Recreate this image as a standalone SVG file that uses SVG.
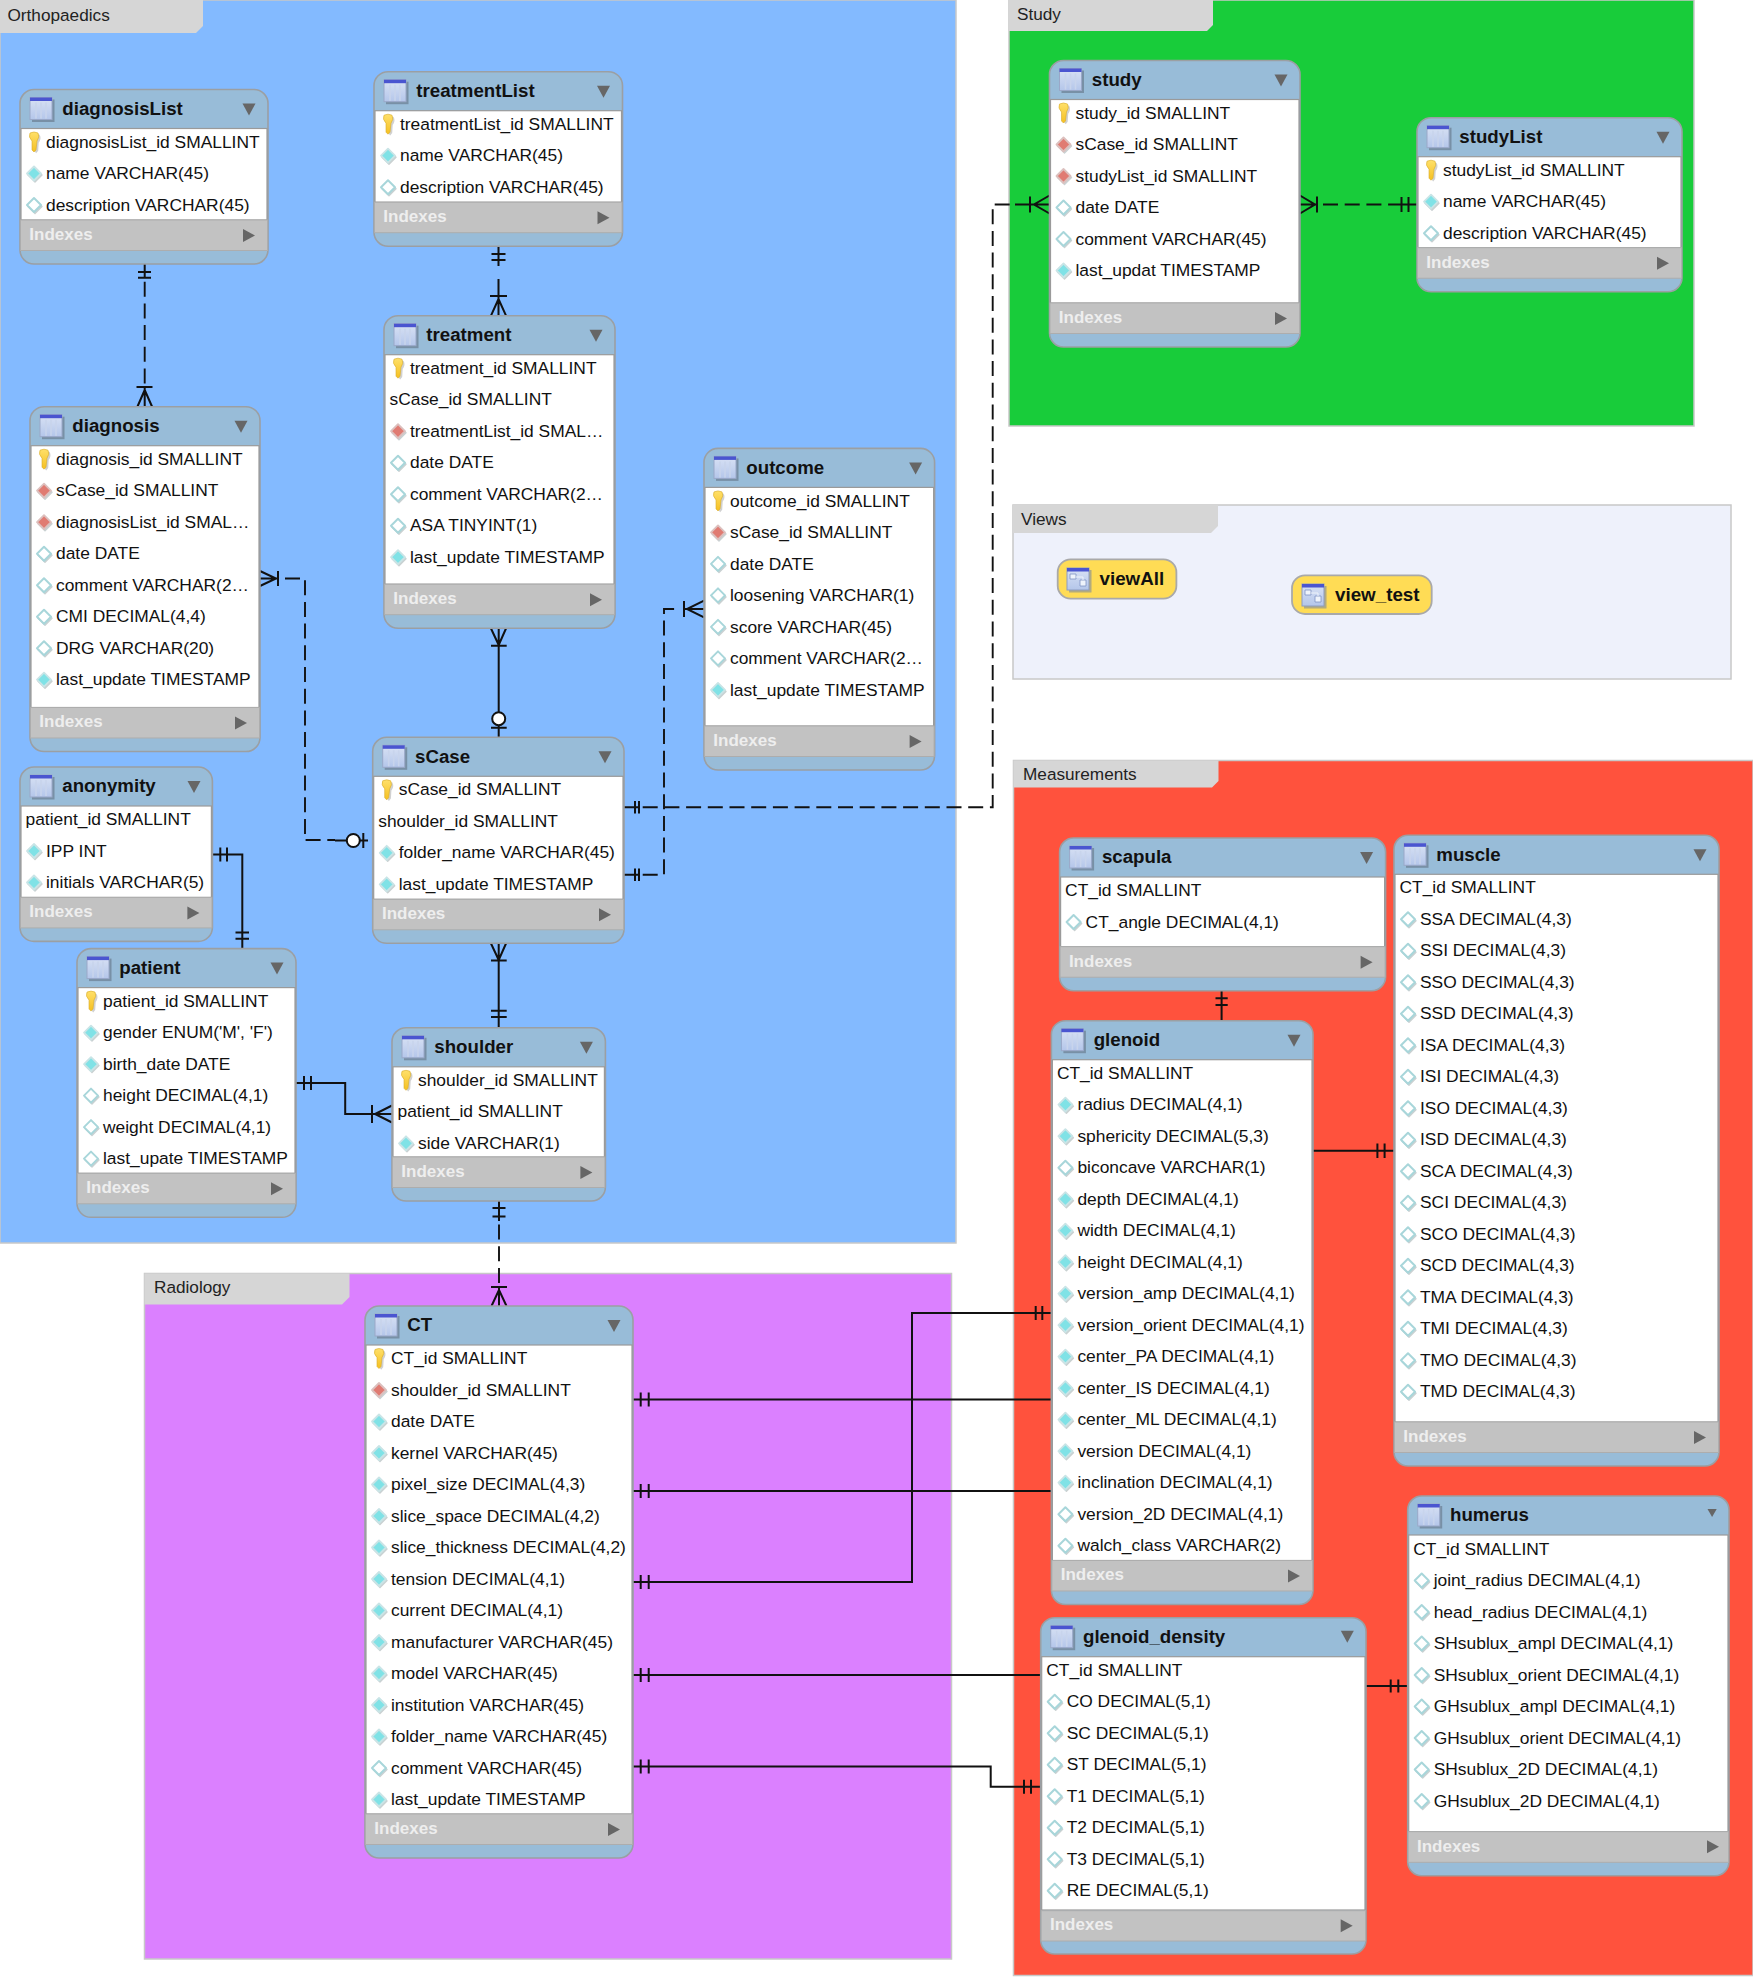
<svg xmlns="http://www.w3.org/2000/svg" width="1753" height="1981" viewBox="0 0 1753 1981">
<style>
text{font-family:"Liberation Sans",Arial,sans-serif;fill:#111}
.r{font-size:17.4px;transform:translateY(-.4px)}
.ti{font-size:18.7px;font-weight:bold;transform:translateY(-.6px)}
.vt{font-size:18.8px;font-weight:bold}
.ix{font-size:17px;font-weight:bold;fill:#eeeeee}
.ln{font-size:17.2px;fill:#222}
.box{fill:#98bcd8;stroke:#9b9fa3;stroke-width:1.6}
.body{fill:#fff;stroke:#9a9a9a;stroke-width:1.2}
.bar{fill:#c2c2c2;stroke:#adadad;stroke-width:1}
.tab{fill:#d6d6d6}
.lay{stroke:#c8c8c8;stroke-width:1.5}
.vw{fill:#ffdc55;stroke:#a9a9a9;stroke-width:1.8}
.arr{fill:#666}
.s{fill:none;stroke:#111;stroke-width:2}
.d{fill:none;stroke:#111;stroke-width:1.9;stroke-dasharray:15 6.7}
.o{fill:#fff;stroke:#111;stroke-width:2}
</style>
<defs>
<linearGradient id="ig" x1="0" y1="0" x2="0" y2="1"><stop offset="0" stop-color="#d9e2f4"/><stop offset="1" stop-color="#b4c6ea"/></linearGradient>
<linearGradient id="kg" x1="0" y1="0" x2="0" y2="1"><stop offset="0" stop-color="#ffe06a"/><stop offset="1" stop-color="#f5c021"/></linearGradient>
<path id="dshape" d="M0-7L7 0L0 7L-7 0Z" stroke-linejoin="round"/>
<g id="tbl"><rect x="-9" y="-9" width="22.500" height="22.500" fill="#5f6b7d" opacity=".55"/><rect x="-11" y="-11" width="22" height="22" fill="url(#ig)" stroke="#9aa8c8"/><rect x="-11" y="-11" width="22" height="3.500" fill="#4a55d0"/><path d="M-5-6V10M0-6V10M5-6V10" stroke="#c8d4ec" stroke-width="1.600"/></g>
<g id="vic"><rect x="-9" y="-9" width="22.500" height="22.500" fill="#7f8a99" opacity=".6"/><rect x="-11" y="-11" width="22" height="22" fill="url(#ig)" stroke="#8d9cc0"/><rect x="-11" y="-11" width="22" height="3.500" fill="#4a55d0"/><path d="M-8-5H-2V0H-8ZM2 1H8V7H2Z" fill="#eef3fb" stroke="#7f93c4" stroke-width=".8"/><path d="M-2-2H5V1" fill="none" stroke="#eef3fb"/></g>
<g id="k"><path d="M-3.500-8Q0-10 4.500-8Q6.500-4 3.500 0L3 8L1 10.500L-1 8L-1 0Q-5-4-3.500-8Z" fill="#999" opacity=".45" transform="translate(1.200,.8)"/><path d="M-4-9Q0-11 4-9Q6-5 3-1L2 8L0 10L-2 8L-2-1Q-6-5-4-9Z" fill="url(#kg)" stroke="#d6ab2b" stroke-width=".6"/></g>
<g id="dt"><use href="#dshape" x="1" y="1.500" fill="#8a9a9c" opacity=".45" stroke="#8a9a9c" stroke-width="1.400"/><use href="#dshape" fill="#80e2e6" stroke="#c9e4e6" stroke-width="1.800"/></g>
<g id="do"><use href="#dshape" x="1" y="1.500" fill="#8a9a9c" opacity=".45" stroke="#8a9a9c" stroke-width="1.400"/><use href="#dshape" fill="#fff" stroke="#a8d6da" stroke-width="2"/></g>
<g id="dr"><use href="#dshape" x="1" y="1.500" fill="#8a9a9c" opacity=".45" stroke="#8a9a9c" stroke-width="1.400"/><use href="#dshape" fill="#e07b72" stroke="#dcc0be" stroke-width="1.800"/></g>
<path id="ad" class="arr" d="M-6.500-6H6.500L0 6Z"/>
<path id="ar" class="arr" d="M-6-6.500L6 0L-6 6.500Z"/>
</defs>

<g id="layers">
<g id="layer-orthopaedics"><rect class="lay" x="0" y="0" width="956" height="1243" fill="#83baff"/><path class="tab" d="M0 0H203V26L196 33H0Z"/><text class="ln" x="7.500" y="21">Orthopaedics</text></g>
<g id="layer-study"><rect class="lay" x="1009" y="0" width="685" height="426" fill="#18cc3a"/><path class="tab" d="M1009 0H1213V25L1207 31H1009Z"/><text class="ln" x="1017" y="20">Study</text></g>
<g id="layer-views"><rect class="lay" x="1013" y="505" width="718" height="174" fill="#eef1fb"/><path class="tab" d="M1013 505H1218V526L1211 533H1013Z"/><text class="ln" x="1021" y="525">Views</text></g>
<g id="layer-measurements"><rect class="lay" x="1013.500" y="760.500" width="739.500" height="1215" fill="#ff523d"/><path class="tab" d="M1013.500 760.500H1218.500V781L1212 787.500H1013.500Z"/><text class="ln" x="1023" y="780">Measurements</text></g>
<g id="layer-radiology"><rect class="lay" x="144.500" y="1273.500" width="807" height="685.500" fill="#db80ff"/><path class="tab" d="M144.500 1273.500H349.500V1297L342 1304.500H144.500Z"/><text class="ln" x="154" y="1293">Radiology</text></g>
</g>

<g id="connectors">
<g id="c1"><path class="d" d="M144.700 281.700V387"/><path class="s" d="M144.700 264V277M138 272H151M138 277.700H151M136.500 387H152.500M144.700 387V406.500M144.700 390L137.500 406.500M144.700 390L152 406.500"/></g>
<g id="c2"><path class="s" d="M498.500 246V266M498.500 279V296M491.500 254H505.500M491.500 260H505.500M490 296H507M498.500 296V315.700M498.500 299L491 315.700M498.500 299L506 315.700"/></g>
<g id="c3"><path class="s" d="M498.700 628.500V737M491 628.500L498.700 645L506 628.500M491 645.700H506.700M491 727.700H506.700"/><circle class="o" cx="498.700" cy="718.700" r="6.500"/></g>
<g id="c4"><path class="s" d="M498.700 943V1028M491 943.500L498.700 960L506 943.500M491 960.500H506.700M491 1010.700H506.700M491 1017H506.700"/></g>
<g id="c5"><path class="d" d="M285 578.500H305V840H335"/><path class="s" d="M260 571L276 578.500L260 586M278 571V586M260 578.500H278M335 840.500H368M363.300 833V848"/><circle class="o" cx="353.300" cy="840.500" r="6.500"/></g>
<g id="c6"><path class="d" d="M642.700 807.300H992.700V204.500H1015"/><path class="d" d="M642.700 874.700H664V609H680"/><path class="s" d="M624 807.300H640M635 801V813.500M639 801V813.500M624 874.700H640M635 868.500V881M639 868.500V881M684 601V617M684 609H704M704 600.700L687 609L704 617.300M1015 204.500H1049M1030 196.500V212.500M1049.500 195.500L1034 204.500L1049.500 213.500"/></g>
<g id="c7"><path class="d" d="M1323 204.500H1398"/><path class="s" d="M1300 195.500L1315 204.500L1300 213.500M1317 196.500V212.500M1300 204.500H1317M1398 204.500H1417M1401.500 197V212M1408.500 197V212"/></g>
<g id="c8"><path class="s" d="M212.400 854.500H242.300V948.600M220.300 847.500V861.500M227 847.500V861.500M235.500 932.500H249M235.500 938.700H249"/></g>
<g id="c9"><path class="s" d="M296 1083H345.200V1114H392M304 1076V1090M311 1076V1090M372 1105V1123M392 1105.500L375 1114L392 1122.500"/></g>
<g id="c10"><path class="d" d="M499 1224.600V1287"/><path class="s" d="M499 1201V1221M492.500 1208H505.500M492.500 1216.500H505.500M491 1287H507M499 1287V1306M499 1290L491.500 1306M499 1290L506.500 1306"/></g>
<g id="c11"><path class="s" d="M1221.600 990.700V1020.700M1215.500 998.300H1227.700M1215.500 1005H1227.700"/></g>
<g id="c12"><path class="s" d="M1313 1150.700H1394M1377.400 1143.500V1158M1384.600 1143.500V1158"/></g>
<g id="c13"><path class="s" d="M633 1582H912V1313H1051.400M640.700 1575V1589M648.700 1575V1589M1035.700 1306V1320M1042.300 1306V1320"/></g>
<g id="c14"><path class="s" d="M633 1399.400H1051.400M640.700 1392.400V1406.400M648.700 1392.400V1406.400"/></g>
<g id="c15"><path class="s" d="M633 1490.900H1051.400M640.700 1484V1498M648.700 1484V1498"/></g>
<g id="c16"><path class="s" d="M633 1675H1040.700M640.700 1668V1682M648.700 1668V1682"/></g>
<g id="c17"><path class="s" d="M633 1766.400H990.700V1786.700H1040.700M640.700 1759.400V1773.400M648.700 1759.400V1773.400M1024 1779.700V1793.700M1031 1779.700V1793.700"/></g>
<g id="c18"><path class="s" d="M1366 1686H1407.700M1390.700 1679.500V1692.500M1398.300 1679.500V1692.500"/></g>
</g>

<g id="t-diagnosisList" transform="translate(20,89.500)"><rect class="box" width="248" height="174.500" rx="14"/><rect class="body" x="1" y="39" width="246" height="91.500"/><rect class="bar" x=".5" y="130.500" width="247" height="30.500"/><use href="#tbl" x="21" y="19"/><text class="ti" x="42.300" y="26">diagnosisList</text><use href="#ad" x="229" y="20"/><use href="#k" x="14" y="52.500"/><text class="r" x="26" y="58.500">diagnosisList_id SMALLINT</text><use href="#dt" x="14" y="84"/><text class="r" x="26" y="90">name VARCHAR(45)</text><use href="#do" x="14" y="115.500"/><text class="r" x="26" y="121.500">description VARCHAR(45)</text><text class="ix" x="9.300" y="150.500">Indexes</text><use href="#ar" x="229" y="146"/></g>

<g id="t-treatmentList" transform="translate(374,71.700)"><rect class="box" width="248.500" height="174.500" rx="14"/><rect class="body" x="1" y="39" width="246.500" height="91.500"/><rect class="bar" x=".5" y="130.500" width="247.500" height="30.500"/><use href="#tbl" x="21" y="19"/><text class="ti" x="42.300" y="26">treatmentList</text><use href="#ad" x="229.500" y="20"/><use href="#k" x="14" y="52.500"/><text class="r" x="26" y="58.500">treatmentList_id SMALLINT</text><use href="#dt" x="14" y="84"/><text class="r" x="26" y="90">name VARCHAR(45)</text><use href="#do" x="14" y="115.500"/><text class="r" x="26" y="121.500">description VARCHAR(45)</text><text class="ix" x="9.300" y="150.500">Indexes</text><use href="#ar" x="229.500" y="146"/></g>

<g id="t-treatment" transform="translate(384,315.700)"><rect class="box" width="231" height="312.500" rx="14"/><rect class="body" x="1" y="39" width="229" height="229.500"/><rect class="bar" x=".5" y="268.500" width="230" height="30.500"/><use href="#tbl" x="21" y="19"/><text class="ti" x="42.300" y="26">treatment</text><use href="#ad" x="212" y="20"/><use href="#k" x="14" y="52.500"/><text class="r" x="26" y="58.500">treatment_id SMALLINT</text><text class="r" x="5.500" y="90">sCase_id SMALLINT</text><use href="#dr" x="14" y="115.500"/><text class="r" x="26" y="121.500">treatmentList_id SMAL…</text><use href="#do" x="14" y="147"/><text class="r" x="26" y="153">date DATE</text><use href="#do" x="14" y="178.500"/><text class="r" x="26" y="184.500">comment VARCHAR(2…</text><use href="#do" x="14" y="210"/><text class="r" x="26" y="216">ASA TINYINT(1)</text><use href="#dt" x="14" y="241.500"/><text class="r" x="26" y="247.500">last_update TIMESTAMP</text><text class="ix" x="9.300" y="288.500">Indexes</text><use href="#ar" x="212" y="284"/></g>

<g id="t-diagnosis" transform="translate(30,406.700)"><rect class="box" width="230" height="344.800" rx="14"/><rect class="body" x="1" y="39" width="228" height="261.800"/><rect class="bar" x=".5" y="300.800" width="229" height="30.500"/><use href="#tbl" x="21" y="19"/><text class="ti" x="42.300" y="26">diagnosis</text><use href="#ad" x="211" y="20"/><use href="#k" x="14" y="52.500"/><text class="r" x="26" y="58.500">diagnosis_id SMALLINT</text><use href="#dr" x="14" y="84"/><text class="r" x="26" y="90">sCase_id SMALLINT</text><use href="#dr" x="14" y="115.500"/><text class="r" x="26" y="121.500">diagnosisList_id SMAL…</text><use href="#do" x="14" y="147"/><text class="r" x="26" y="153">date DATE</text><use href="#do" x="14" y="178.500"/><text class="r" x="26" y="184.500">comment VARCHAR(2…</text><use href="#do" x="14" y="210"/><text class="r" x="26" y="216">CMI DECIMAL(4,4)</text><use href="#do" x="14" y="241.500"/><text class="r" x="26" y="247.500">DRG VARCHAR(20)</text><use href="#dt" x="14" y="273"/><text class="r" x="26" y="279">last_update TIMESTAMP</text><text class="ix" x="9.300" y="320.800">Indexes</text><use href="#ar" x="211" y="316.300"/></g>

<g id="t-outcome" transform="translate(704,448.400)"><rect class="box" width="230.600" height="321.600" rx="14"/><rect class="body" x="1" y="39" width="228.600" height="238.600"/><rect class="bar" x=".5" y="277.600" width="229.600" height="30.500"/><use href="#tbl" x="21" y="19"/><text class="ti" x="42.300" y="26">outcome</text><use href="#ad" x="211.600" y="20"/><use href="#k" x="14" y="52.500"/><text class="r" x="26" y="58.500">outcome_id SMALLINT</text><use href="#dr" x="14" y="84"/><text class="r" x="26" y="90">sCase_id SMALLINT</text><use href="#do" x="14" y="115.500"/><text class="r" x="26" y="121.500">date DATE</text><use href="#do" x="14" y="147"/><text class="r" x="26" y="153">loosening VARCHAR(1)</text><use href="#do" x="14" y="178.500"/><text class="r" x="26" y="184.500">score VARCHAR(45)</text><use href="#do" x="14" y="210"/><text class="r" x="26" y="216">comment VARCHAR(2…</text><use href="#dt" x="14" y="241.500"/><text class="r" x="26" y="247.500">last_update TIMESTAMP</text><text class="ix" x="9.300" y="297.600">Indexes</text><use href="#ar" x="211.600" y="293.100"/></g>

<g id="t-sCase" transform="translate(372.700,737.300)"><rect class="box" width="251.300" height="206" rx="14"/><rect class="body" x="1" y="39" width="249.300" height="123"/><rect class="bar" x=".5" y="162" width="250.300" height="30.500"/><use href="#tbl" x="21" y="19"/><text class="ti" x="42.300" y="26">sCase</text><use href="#ad" x="232.300" y="20"/><use href="#k" x="14" y="52.500"/><text class="r" x="26" y="58.500">sCase_id SMALLINT</text><text class="r" x="5.500" y="90">shoulder_id SMALLINT</text><use href="#dt" x="14" y="115.500"/><text class="r" x="26" y="121.500">folder_name VARCHAR(45)</text><use href="#dt" x="14" y="147"/><text class="r" x="26" y="153">last_update TIMESTAMP</text><text class="ix" x="9.300" y="182">Indexes</text><use href="#ar" x="232.300" y="177.500"/></g>

<g id="t-anonymity" transform="translate(20,767)"><rect class="box" width="192.400" height="174.400" rx="14"/><rect class="body" x="1" y="39" width="190.400" height="91.400"/><rect class="bar" x=".5" y="130.400" width="191.400" height="30.500"/><use href="#tbl" x="21" y="19"/><text class="ti" x="42.300" y="26">anonymity</text><use href="#ad" x="174" y="20"/><text class="r" x="5.500" y="58.500">patient_id SMALLINT</text><use href="#dt" x="14" y="84"/><text class="r" x="26" y="90">IPP INT</text><use href="#dt" x="14" y="115.500"/><text class="r" x="26" y="121.500">initials VARCHAR(5)</text><text class="ix" x="9.300" y="150.400">Indexes</text><use href="#ar" x="173.400" y="145.900"/></g>

<g id="t-patient" transform="translate(77,948.600)"><rect class="box" width="219" height="268.700" rx="14"/><rect class="body" x="1" y="39" width="217" height="185.700"/><rect class="bar" x=".5" y="224.700" width="218" height="30.500"/><use href="#tbl" x="21" y="19"/><text class="ti" x="42.300" y="26">patient</text><use href="#ad" x="200" y="20"/><use href="#k" x="14" y="52.500"/><text class="r" x="26" y="58.500">patient_id SMALLINT</text><use href="#dt" x="14" y="84"/><text class="r" x="26" y="90">gender ENUM('M', 'F')</text><use href="#dt" x="14" y="115.500"/><text class="r" x="26" y="121.500">birth_date DATE</text><use href="#do" x="14" y="147"/><text class="r" x="26" y="153">height DECIMAL(4,1)</text><use href="#do" x="14" y="178.500"/><text class="r" x="26" y="184.500">weight DECIMAL(4,1)</text><use href="#do" x="14" y="210"/><text class="r" x="26" y="216">last_upate TIMESTAMP</text><text class="ix" x="9.300" y="244.700">Indexes</text><use href="#ar" x="200" y="240.200"/></g>

<g id="t-shoulder" transform="translate(392,1027.800)"><rect class="box" width="213.400" height="173.200" rx="14"/><rect class="body" x="1" y="39" width="211.400" height="90.200"/><rect class="bar" x=".5" y="129.200" width="212.400" height="30.500"/><use href="#tbl" x="21" y="19"/><text class="ti" x="42.300" y="26">shoulder</text><use href="#ad" x="194.400" y="20"/><use href="#k" x="14" y="52.500"/><text class="r" x="26" y="58.500">shoulder_id SMALLINT</text><text class="r" x="5.500" y="90">patient_id SMALLINT</text><use href="#dt" x="14" y="115.500"/><text class="r" x="26" y="121.500">side VARCHAR(1)</text><text class="ix" x="9.300" y="149.200">Indexes</text><use href="#ar" x="194.400" y="144.700"/></g>

<g id="t-CT" transform="translate(365,1306)"><rect class="box" width="268" height="552" rx="14"/><rect class="body" x="1" y="39" width="266" height="469"/><rect class="bar" x=".5" y="508" width="267" height="30.500"/><use href="#tbl" x="21" y="19"/><text class="ti" x="42.300" y="26">CT</text><use href="#ad" x="249" y="20"/><use href="#k" x="14" y="52.500"/><text class="r" x="26" y="58.500">CT_id SMALLINT</text><use href="#dr" x="14" y="84"/><text class="r" x="26" y="90">shoulder_id SMALLINT</text><use href="#dt" x="14" y="115.500"/><text class="r" x="26" y="121.500">date DATE</text><use href="#dt" x="14" y="147"/><text class="r" x="26" y="153">kernel VARCHAR(45)</text><use href="#dt" x="14" y="178.500"/><text class="r" x="26" y="184.500">pixel_size DECIMAL(4,3)</text><use href="#dt" x="14" y="210"/><text class="r" x="26" y="216">slice_space DECIMAL(4,2)</text><use href="#dt" x="14" y="241.500"/><text class="r" x="26" y="247.500">slice_thickness DECIMAL(4,2)</text><use href="#dt" x="14" y="273"/><text class="r" x="26" y="279">tension DECIMAL(4,1)</text><use href="#dt" x="14" y="304.500"/><text class="r" x="26" y="310.500">current DECIMAL(4,1)</text><use href="#dt" x="14" y="336"/><text class="r" x="26" y="342">manufacturer VARCHAR(45)</text><use href="#dt" x="14" y="367.500"/><text class="r" x="26" y="373.500">model VARCHAR(45)</text><use href="#dt" x="14" y="399"/><text class="r" x="26" y="405">institution VARCHAR(45)</text><use href="#dt" x="14" y="430.500"/><text class="r" x="26" y="436.500">folder_name VARCHAR(45)</text><use href="#do" x="14" y="462"/><text class="r" x="26" y="468">comment VARCHAR(45)</text><use href="#dt" x="14" y="493.500"/><text class="r" x="26" y="499.500">last_update TIMESTAMP</text><text class="ix" x="9.300" y="528">Indexes</text><use href="#ar" x="249" y="523.500"/></g>

<g id="t-study" transform="translate(1049.500,60.500)"><rect class="box" width="250.500" height="286.500" rx="14"/><rect class="body" x="1" y="39" width="248.500" height="203.500"/><rect class="bar" x=".5" y="242.500" width="249.500" height="30.500"/><use href="#tbl" x="21" y="19"/><text class="ti" x="42.300" y="26">study</text><use href="#ad" x="231.500" y="20"/><use href="#k" x="14" y="52.500"/><text class="r" x="26" y="58.500">study_id SMALLINT</text><use href="#dr" x="14" y="84"/><text class="r" x="26" y="90">sCase_id SMALLINT</text><use href="#dr" x="14" y="115.500"/><text class="r" x="26" y="121.500">studyList_id SMALLINT</text><use href="#do" x="14" y="147"/><text class="r" x="26" y="153">date DATE</text><use href="#do" x="14" y="178.500"/><text class="r" x="26" y="184.500">comment VARCHAR(45)</text><use href="#dt" x="14" y="210"/><text class="r" x="26" y="216">last_updat TIMESTAMP</text><text class="ix" x="9.300" y="262.500">Indexes</text><use href="#ar" x="231.500" y="258"/></g>

<g id="t-studyList" transform="translate(1417,117.700)"><rect class="box" width="265" height="174" rx="14"/><rect class="body" x="1" y="39" width="263" height="91"/><rect class="bar" x=".5" y="130" width="264" height="30.500"/><use href="#tbl" x="21" y="19"/><text class="ti" x="42.300" y="26">studyList</text><use href="#ad" x="246" y="20"/><use href="#k" x="14" y="52.500"/><text class="r" x="26" y="58.500">studyList_id SMALLINT</text><use href="#dt" x="14" y="84"/><text class="r" x="26" y="90">name VARCHAR(45)</text><use href="#do" x="14" y="115.500"/><text class="r" x="26" y="121.500">description VARCHAR(45)</text><text class="ix" x="9.300" y="150">Indexes</text><use href="#ar" x="246" y="145.500"/></g>

<g id="v-viewAll"><rect class="vw" x="1057.700" y="559.400" width="118.700" height="39.300" rx="13"/><use href="#vic" x="1078" y="579"/><text class="vt" x="1099.500" y="585">viewAll</text></g>
<g id="v-view_test"><rect class="vw" x="1292" y="575.400" width="139.700" height="38.600" rx="13"/><use href="#vic" x="1313" y="595"/><text class="vt" x="1335" y="601">view_test</text></g>

<g id="t-scapula" transform="translate(1059.600,838)"><rect class="box" width="326" height="152.700" rx="14"/><rect class="body" x="1" y="39" width="324" height="69.700"/><rect class="bar" x=".5" y="108.700" width="325" height="30.500"/><use href="#tbl" x="21" y="19"/><text class="ti" x="42.300" y="26">scapula</text><use href="#ad" x="307" y="20"/><text class="r" x="5.500" y="58.500">CT_id SMALLINT</text><use href="#do" x="14" y="84"/><text class="r" x="26" y="90">CT_angle DECIMAL(4,1)</text><text class="ix" x="9.300" y="128.700">Indexes</text><use href="#ar" x="307" y="124.200"/></g>

<g id="t-muscle" transform="translate(1394,835.300)"><rect class="box" width="325" height="630.700" rx="14"/><rect class="body" x="1" y="39" width="323" height="547.700"/><rect class="bar" x=".5" y="586.700" width="324" height="30.500"/><use href="#tbl" x="21" y="19"/><text class="ti" x="42.300" y="26">muscle</text><use href="#ad" x="306" y="20"/><text class="r" x="5.500" y="58.500">CT_id SMALLINT</text><use href="#do" x="14" y="84"/><text class="r" x="26" y="90">SSA DECIMAL(4,3)</text><use href="#do" x="14" y="115.500"/><text class="r" x="26" y="121.500">SSI DECIMAL(4,3)</text><use href="#do" x="14" y="147"/><text class="r" x="26" y="153">SSO DECIMAL(4,3)</text><use href="#do" x="14" y="178.500"/><text class="r" x="26" y="184.500">SSD DECIMAL(4,3)</text><use href="#do" x="14" y="210"/><text class="r" x="26" y="216">ISA DECIMAL(4,3)</text><use href="#do" x="14" y="241.500"/><text class="r" x="26" y="247.500">ISI DECIMAL(4,3)</text><use href="#do" x="14" y="273"/><text class="r" x="26" y="279">ISO DECIMAL(4,3)</text><use href="#do" x="14" y="304.500"/><text class="r" x="26" y="310.500">ISD DECIMAL(4,3)</text><use href="#do" x="14" y="336"/><text class="r" x="26" y="342">SCA DECIMAL(4,3)</text><use href="#do" x="14" y="367.500"/><text class="r" x="26" y="373.500">SCI DECIMAL(4,3)</text><use href="#do" x="14" y="399"/><text class="r" x="26" y="405">SCO DECIMAL(4,3)</text><use href="#do" x="14" y="430.500"/><text class="r" x="26" y="436.500">SCD DECIMAL(4,3)</text><use href="#do" x="14" y="462"/><text class="r" x="26" y="468">TMA DECIMAL(4,3)</text><use href="#do" x="14" y="493.500"/><text class="r" x="26" y="499.500">TMI DECIMAL(4,3)</text><use href="#do" x="14" y="525"/><text class="r" x="26" y="531">TMO DECIMAL(4,3)</text><use href="#do" x="14" y="556.500"/><text class="r" x="26" y="562.500">TMD DECIMAL(4,3)</text><text class="ix" x="9.300" y="606.700">Indexes</text><use href="#ar" x="306" y="602.200"/></g>

<g id="t-glenoid" transform="translate(1051.400,1020.700)"><rect class="box" width="261.600" height="583.800" rx="14"/><rect class="body" x="1" y="39" width="259.600" height="500.800"/><rect class="bar" x=".5" y="539.800" width="260.600" height="30.500"/><use href="#tbl" x="21" y="19"/><text class="ti" x="42.300" y="26">glenoid</text><use href="#ad" x="242.600" y="20"/><text class="r" x="5.500" y="58.500">CT_id SMALLINT</text><use href="#dt" x="14" y="84"/><text class="r" x="26" y="90">radius DECIMAL(4,1)</text><use href="#dt" x="14" y="115.500"/><text class="r" x="26" y="121.500">sphericity DECIMAL(5,3)</text><use href="#do" x="14" y="147"/><text class="r" x="26" y="153">biconcave VARCHAR(1)</text><use href="#dt" x="14" y="178.500"/><text class="r" x="26" y="184.500">depth DECIMAL(4,1)</text><use href="#dt" x="14" y="210"/><text class="r" x="26" y="216">width DECIMAL(4,1)</text><use href="#dt" x="14" y="241.500"/><text class="r" x="26" y="247.500">height DECIMAL(4,1)</text><use href="#dt" x="14" y="273"/><text class="r" x="26" y="279">version_amp DECIMAL(4,1)</text><use href="#dt" x="14" y="304.500"/><text class="r" x="26" y="310.500">version_orient DECIMAL(4,1)</text><use href="#dt" x="14" y="336"/><text class="r" x="26" y="342">center_PA DECIMAL(4,1)</text><use href="#dt" x="14" y="367.500"/><text class="r" x="26" y="373.500">center_IS DECIMAL(4,1)</text><use href="#dt" x="14" y="399"/><text class="r" x="26" y="405">center_ML DECIMAL(4,1)</text><use href="#dt" x="14" y="430.500"/><text class="r" x="26" y="436.500">version DECIMAL(4,1)</text><use href="#dt" x="14" y="462"/><text class="r" x="26" y="468">inclination DECIMAL(4,1)</text><use href="#do" x="14" y="493.500"/><text class="r" x="26" y="499.500">version_2D DECIMAL(4,1)</text><use href="#do" x="14" y="525"/><text class="r" x="26" y="531">walch_class VARCHAR(2)</text><text class="ix" x="9.300" y="559.800">Indexes</text><use href="#ar" x="242.600" y="555.300"/></g>

<g id="t-glenoid_density" transform="translate(1040.700,1617.700)"><rect class="box" width="325.300" height="336.300" rx="14"/><rect class="body" x="1" y="39" width="323.300" height="253.300"/><rect class="bar" x=".5" y="293" width="324.300" height="30.300"/><use href="#tbl" x="21" y="19"/><text class="ti" x="42.300" y="26">glenoid_density</text><use href="#ad" x="306.600" y="19"/><text class="r" x="5.500" y="58.500">CT_id SMALLINT</text><use href="#do" x="14" y="84"/><text class="r" x="26" y="90">CO DECIMAL(5,1)</text><use href="#do" x="14" y="115.500"/><text class="r" x="26" y="121.500">SC DECIMAL(5,1)</text><use href="#do" x="14" y="147"/><text class="r" x="26" y="153">ST DECIMAL(5,1)</text><use href="#do" x="14" y="178.500"/><text class="r" x="26" y="184.500">T1 DECIMAL(5,1)</text><use href="#do" x="14" y="210"/><text class="r" x="26" y="216">T2 DECIMAL(5,1)</text><use href="#do" x="14" y="241.500"/><text class="r" x="26" y="247.500">T3 DECIMAL(5,1)</text><use href="#do" x="14" y="273"/><text class="r" x="26" y="279">RE DECIMAL(5,1)</text><text class="ix" x="9.300" y="312.500">Indexes</text><use href="#ar" x="306" y="308"/></g>

<g id="t-humerus" transform="translate(1407.700,1496)"><rect class="box" width="321.300" height="379.700" rx="14"/><rect class="body" x="1" y="39" width="319.300" height="296.700"/><rect class="bar" x=".5" y="335.700" width="320.300" height="30.600"/><use href="#tbl" x="21" y="19"/><text class="ti" x="42.300" y="26">humerus</text><path class="arr" d="M299.800 13H309L304.400 21Z"/><text class="r" x="5.500" y="59">CT_id SMALLINT</text><use href="#do" x="14" y="84.500"/><text class="r" x="26" y="90.500">joint_radius DECIMAL(4,1)</text><use href="#do" x="14" y="116"/><text class="r" x="26" y="122">head_radius DECIMAL(4,1)</text><use href="#do" x="14" y="147.500"/><text class="r" x="26" y="153.500">SHsublux_ampl DECIMAL(4,1)</text><use href="#do" x="14" y="179"/><text class="r" x="26" y="185">SHsublux_orient DECIMAL(4,1)</text><use href="#do" x="14" y="210.500"/><text class="r" x="26" y="216.500">GHsublux_ampl DECIMAL(4,1)</text><use href="#do" x="14" y="242"/><text class="r" x="26" y="248">GHsublux_orient DECIMAL(4,1)</text><use href="#do" x="14" y="273.500"/><text class="r" x="26" y="279.500">SHsublux_2D DECIMAL(4,1)</text><use href="#do" x="14" y="305"/><text class="r" x="26" y="311">GHsublux_2D DECIMAL(4,1)</text><text class="ix" x="9.300" y="355.700">Indexes</text><use href="#ar" x="305.300" y="350.700"/></g>
</svg>
